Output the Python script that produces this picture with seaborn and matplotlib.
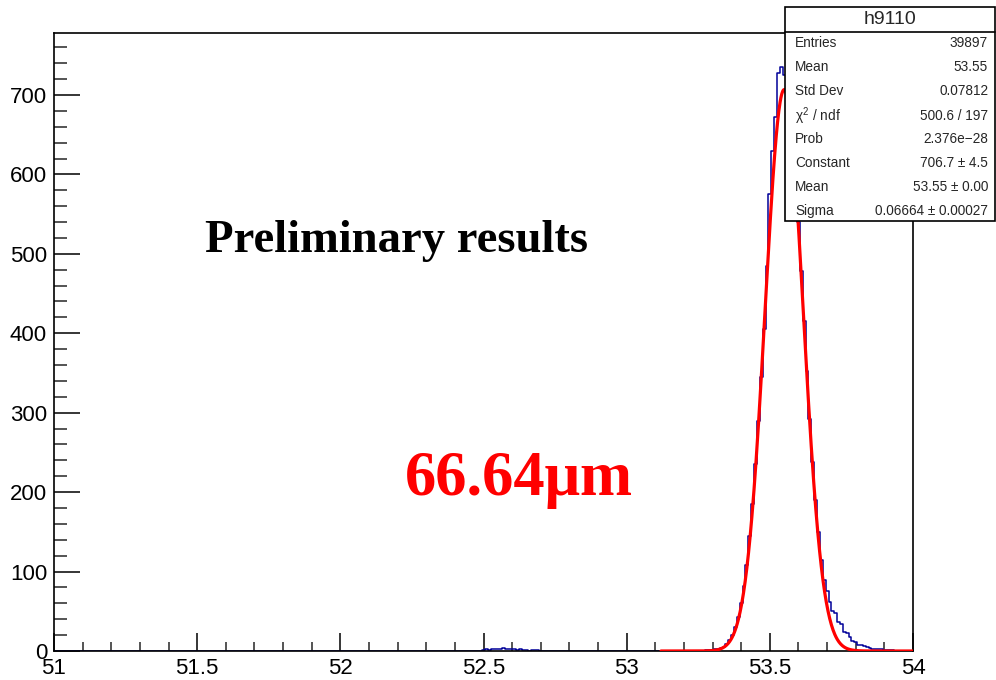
import numpy as np
import pandas as pd
import matplotlib
matplotlib.use("Agg")
import matplotlib.pyplot as plt
import seaborn as sns
from matplotlib.patches import Rectangle
from matplotlib.lines import Line2D
from matplotlib.ticker import MultipleLocator

# ---- h9110 histogram contents (counts per displayed bin, 0.01 wide) ----
bin_width = 0.01
peak_start = 53.28
peak_counts = [1, 1, 1, 2, 2, 4, 5, 9, 14, 20,
               30, 43, 60, 82, 108, 145, 185, 235, 290, 345,
               405, 485, 575, 630, 672, 728, 735, 725, 705, 680,
               645, 595, 540, 478, 415, 352, 292, 238, 190, 150,
               115, 90, 76, 62, 50, 48, 36, 34, 24, 23,
               18, 13, 11, 8, 7, 6, 5, 4, 3, 3,
               2, 2, 1, 1, 1, 1]
bump_start = 52.50
bump_counts = [1, 2, 1, 2, 3, 2, 3, 4, 3, 2,
               3, 2, 1, 2, 1, 1, 0, 1, 1, 1]

# ---- Gaussian fit parameters ----
fit_constant = 706.7
fit_mean = 53.55
fit_sigma = 0.06664
fit_range = (53.12, 54.0)

# ---- statistics box ----
stats_title = "h9110"
stats_labels = ["Entries", "Mean", "Std Dev", r"$\chi^{2}$ / ndf", "Prob",
                "Constant", "Mean", "Sigma"]
stats_values = ["39897", "53.55", "0.07812", "500.6 / 197", "2.376e\u221228",
                "706.7 \u00b1 4.5", "53.55 \u00b1 0.00", "0.06664 \u00b1 0.00027"]

x_range = (51.0, 54.0)
y_max = 778

# build the binned table
n_bins = int(round((x_range[1] - x_range[0]) / bin_width)) + 1
centers = np.round(x_range[0] + bin_width * np.arange(n_bins), 4)
weights = np.zeros(n_bins)
for start, vals in ((peak_start, peak_counts), (bump_start, bump_counts)):
    i0 = int(round((start - centers[0]) / bin_width))
    weights[i0:i0 + len(vals)] = vals
hist_df = pd.DataFrame({"x": centers, "w": weights})
bin_range = (x_range[0] - bin_width / 2, x_range[1] + bin_width / 2)

xf = np.linspace(fit_range[0], fit_range[1], 600)
fit_df = pd.DataFrame({"x": xf,
                       "y": fit_constant * np.exp(-0.5 * ((xf - fit_mean) / fit_sigma) ** 2)})

sns.set_style("ticks")
plt.rcParams["font.family"] = ["Liberation Sans", "DejaVu Sans"]
plt.rcParams["mathtext.fontset"] = "custom"
plt.rcParams["mathtext.rm"] = "Liberation Sans"
plt.rcParams["mathtext.it"] = "Liberation Sans"

W, H = 996, 680
fig = plt.figure(figsize=(W / 100, H / 100), dpi=100)
L, R, T, B = 54, 913, 33, 651
ax = fig.add_axes([L / W, 1 - B / H, (R - L) / W, (B - T) / H])

sns.histplot(data=hist_df, x="x", weights="w", binwidth=bin_width,
             binrange=bin_range, element="step", fill=False,
             color="#000099", linewidth=1.1, ax=ax, zorder=2)
sns.lineplot(data=fit_df, x="x", y="y", color="#ff0000", linewidth=2.3,
             ax=ax, zorder=3)

ax.set_xlim(*x_range)
ax.set_ylim(0, y_max)
ax.set_xlabel("")
ax.set_ylabel("")

for s in ax.spines.values():
    s.set_linewidth(1.2)
    s.set_color("black")

ax.xaxis.set_major_locator(MultipleLocator(0.5))
ax.xaxis.set_minor_locator(MultipleLocator(0.1))
ax.yaxis.set_major_locator(MultipleLocator(100))
ax.yaxis.set_minor_locator(MultipleLocator(20))
ax.xaxis.set_major_formatter(matplotlib.ticker.FuncFormatter(lambda v, p: f"{v:g}"))
ax.tick_params(axis="x", which="major", direction="in", length=13, width=1.1,
               labelsize=16, pad=5, colors="black")
ax.tick_params(axis="x", which="minor", direction="in", length=6.5, width=1.1)
ax.tick_params(axis="y", which="major", direction="in", length=18.7, width=1.1,
               labelsize=16, pad=5, colors="black")
ax.tick_params(axis="y", which="minor", direction="in", length=9.4, width=1.1)

# annotations
fig.text(205 / W, 1 - 252 / H, "Preliminary results", fontsize=33.6,
         fontweight="bold", family=["Liberation Serif", "DejaVu Serif"],
         color="black", ha="left", va="baseline")
fig.text(405 / W, 1 - 495 / H, "66.64\u03bcm", fontsize=45,
         fontweight="bold", family=["Liberation Serif", "DejaVu Serif"],
         color="#ff0000", ha="left", va="baseline")

# statistics box
bx0, bx1, by0, by1 = 785, 995, 7, 221
fig.patches.append(Rectangle((bx0 / W, 1 - by1 / H), (bx1 - bx0) / W, (by1 - by0) / H,
                             transform=fig.transFigure, facecolor="white",
                             edgecolor="black", linewidth=1.2, zorder=5))
fig.lines.append(Line2D([bx0 / W, bx1 / W], [1 - 32 / H, 1 - 32 / H],
                        transform=fig.transFigure, color="black", linewidth=1.2,
                        zorder=6))
fig.text((bx0 + bx1) / 2 / W, 1 - 19.5 / H, stats_title, fontsize=14,
         ha="center", va="center", zorder=7)
row_y = [43, 67, 91, 116, 139, 163, 187, 211]
for yy, lab, val in zip(row_y, stats_labels, stats_values):
    fig.text(795 / W, 1 - yy / H, lab, fontsize=9.8, ha="left", va="center", zorder=7)
    fig.text(988 / W, 1 - yy / H, val, fontsize=9.8, ha="right", va="center", zorder=7)

fig.savefig("out.png", dpi=100)
